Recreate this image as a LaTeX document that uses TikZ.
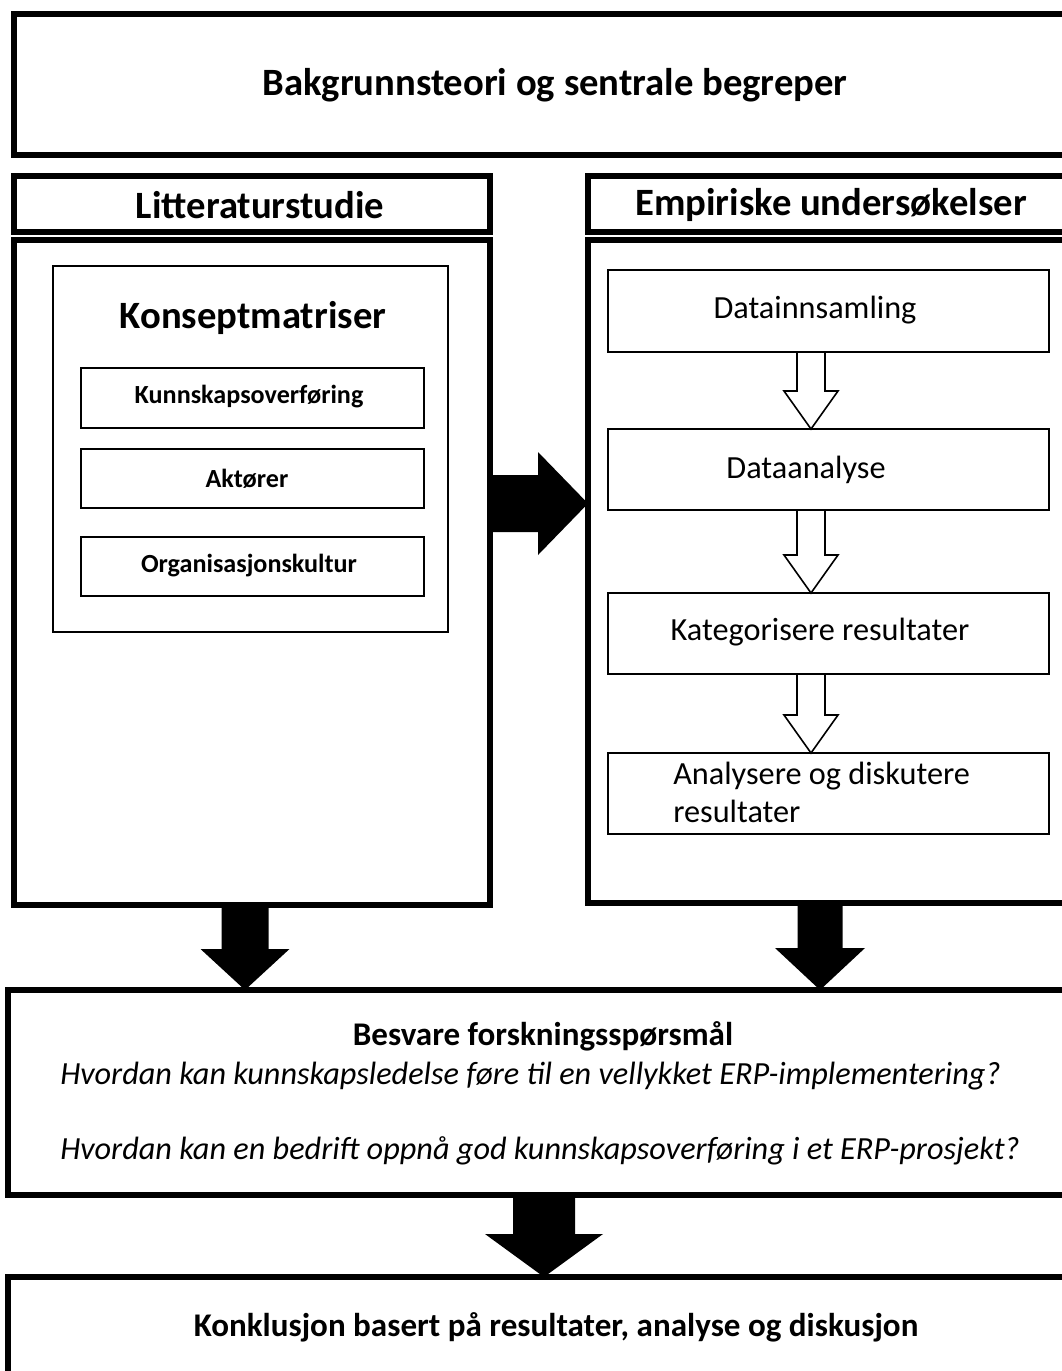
\documentclass[tikz,border=0pt]{standalone}
\usepackage{fontspec}
\setmainfont{Carlito}
\usetikzlibrary{fit,calc}
\newcommand\vdownarrow[6]{%
  \path[#1] let \p1=#2, \p2=#3 in
   (\x1-#4*0.75pt,\y1) -- (\x1+#4*0.75pt,\y1) -- (\x1+#4*0.75pt,\y2+#6*0.75pt)
   -- (\x1+#5*0.75pt,\y2+#6*0.75pt) -- (\x2,\y2) -- (\x1-#5*0.75pt,\y2+#6*0.75pt)
   -- (\x1-#4*0.75pt,\y2+#6*0.75pt) -- cycle;}
\newcommand\hrightarrow[6]{%
  \path[#1] let \p1=#2, \p2=#3 in
   (\x1,\y1+#4*0.75pt) -- (\x2-#6*0.75pt,\y1+#4*0.75pt) -- (\x2-#6*0.75pt,\y1+#5*0.75pt)
   -- (\x2,\y2) -- (\x2-#6*0.75pt,\y1-#5*0.75pt) -- (\x2-#6*0.75pt,\y1-#4*0.75pt)
   -- (\x1,\y1-#4*0.75pt) -- cycle;}
\begin{document}
\begin{tikzpicture}[x=0.75pt,y=-0.75pt,
  thickbox/.style={draw,line width=4pt,inner sep=0pt,outer sep=0pt},
  thinbox/.style={draw,line width=1.5pt,inner sep=0pt,outer sep=0pt},
  hdr/.style={font=\fontsize{29}{35}\selectfont\bfseries},
  sub/.style={font=\fontsize{19.6}{24}\selectfont\bfseries},
  body/.style={font=\fontsize{24.2}{28.5}\selectfont},
  mid/.style={font=\fontsize{24.8}{29}\selectfont\bfseries},
  ital/.style={font=\fontsize{24.2}{29}\selectfont\itshape},
  blackarrow/.style={fill=black,draw=none},
  hollowarrow/.style={fill=white,draw=black,line width=1.2pt,line join=miter}]
\useasboundingbox (0,0) rectangle (1062,1371);
\fill[white] (0,0) rectangle (1062,1371);
\clip (0,0) rectangle (1062,1371);
% top
\node[thickbox,fit={(14,14)(1096,155)}] (bg) {};
\node[hdr] (bgt) at (555,85) {Bakgrunnsteori og sentrale begreper};
\node[thickbox,fit={(14,176)(490,232)}] (lith) {};
\node[hdr] (litht) at (260,205) {Litteraturstudie};
\node[thickbox,fit={(588,176)(1074,232)}] (emph) {};
\node[hdr] (empht) at (831,205) {Empiriske undersøkelser};
\node[thickbox,fit={(14,240)(490,905)}] (litbig) {};
\node[thickbox,fit={(588,240)(1100,903)}] (empbig) {};
% left contents
\node[thinbox,fit={(53,266)(448,632)}] (km) {};
\node[hdr] (kmt) at (253,318) {Konseptmatriser};
\node[thinbox,fit={(81,368)(424,428)}] (k1) {};
\node[sub] (k1t) at (249,397) {Kunnskapsoverføring};
\node[thinbox,fit={(81,449)(424,508)}] (k2) {};
\node[sub] (k2t) at (247,479) {Aktører};
\node[thinbox,fit={(81,537)(424,596)}] (k3) {};
\node[sub] (k3t) at (249,566) {Organisasjonskultur};
% right contents
\node[thinbox,fit={(608,270)(1049,352)}] (d1) {};
\node[body] (d1t) at (815,310) {Datainnsamling};
\node[thinbox,fit={(608,429)(1049,510)}] (d2) {};
\node[body] (d2t) at (806,470) {Dataanalyse};
\node[thinbox,fit={(608,593)(1049,674)}] (d3) {};
\node[body] (d3t) at (820,632) {Kategorisere resultater};
\node[thinbox,fit={(608,753)(1049,834)}] (d4) {};
\node[body,align=left,anchor=north west,inner sep=0pt] (d4t) at (673,762) {Analysere og diskutere\\resultater};
% answer box
\node[thickbox,fit={(8,990)(1078,1195)}] (ans) {};
\node[mid] (anst) at (543,1036) {Besvare forskningsspørsmål};
\node[ital,anchor=west,inner sep=0pt] (q1) at (60,1076) {Hvordan kan kunnskapsledelse føre til en vellykket ERP-implementering?};
\node[ital,anchor=west,inner sep=0pt] (q2) at (60,1151) {Hvordan kan en bedrift oppnå god kunnskapsoverføring i et ERP-prosjekt?};
% conclusion
\node[thickbox,fit={(8,1277)(1104,1420)}] (con) {};
\node[mid] (cont) at (556,1327) {Konklusjon basert på resultater, analyse og diskusjon};
% hollow arrows
\coordinate (h1s) at ($(d1.south west)+(203,0)$);
\coordinate (h1e) at ($(d2.north west)+(203,0)$);
\coordinate (h2s) at ($(d2.south west)+(203,0)$);
\coordinate (h2e) at ($(d3.north west)+(203,0)$);
\coordinate (h3s) at ($(d3.south west)+(203,0)$);
\coordinate (h3e) at ($(d4.north west)+(203,0)$);
\vdownarrow{hollowarrow}{(h1s)}{(h1e)}{14}{27}{38}
\vdownarrow{hollowarrow}{(h2s)}{(h2e)}{14}{27}{38}
\vdownarrow{hollowarrow}{(h3s)}{(h3e)}{14}{27}{38}
% black arrows
\coordinate (b1s) at ($(litbig.south west)+(231,0)$);
\coordinate (b1e) at ($(ans.north west)+(237,0)$);
\coordinate (b2s) at ($(empbig.south west)+(232,0)$);
\coordinate (b2e) at ($(ans.north west)+(812,0)$);
\coordinate (b3s) at ($(ans.south west)+(536,0)$);
\coordinate (b3e) at ($(con.north west)+(536,0)$);
\vdownarrow{blackarrow}{(b1s)}{(b1e)}{23.5}{44.5}{41}
\vdownarrow{blackarrow}{(b2s)}{(b2e)}{22.5}{45}{42}
\vdownarrow{blackarrow}{(b3s)}{(b3e)}{31}{59}{43}
\coordinate (rs) at ($(litbig.north east)+(0,263.5)$);
\coordinate (re) at ($(empbig.north west)+(0,263.5)$);
\hrightarrow{blackarrow}{(rs)}{(re)}{28.5}{51.5}{50}
\end{tikzpicture}
\end{document}
